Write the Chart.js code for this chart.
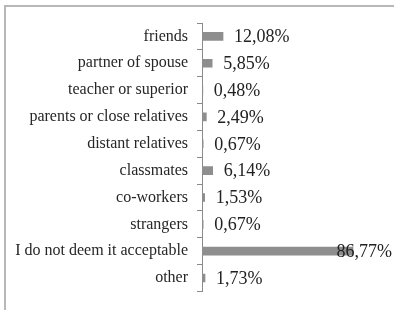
<!DOCTYPE html>
<html>
<head>
<meta charset="utf-8">
<script src="https://cdn.jsdelivr.net/npm/chart.js@4"></script>
<style>
  html, body { margin: 0; padding: 0; background: #fff; }
  #wrap { position: relative; width: 394px; height: 310px; overflow: hidden; }
  #frame { position: absolute; left: 4px; top: 5px; width: 400px; height: 320px;
           border-top: 2px solid #b8b8b8; border-left: 2px solid #b8b8b8; }
  canvas { position: absolute; left: 0; top: 0; }
</style>
</head>
<body>
<div id="wrap">
  <canvas id="chart" width="394" height="310"></canvas>
  <div id="frame"></div>
</div>
<script>
const categories = [
    "friends",
    "partner of spouse",
    "teacher or superior",
    "parents or close relatives",
    "distant relatives",
    "classmates",
    "co-workers",
    "strangers",
    "I do not deem it acceptable",
    "other"
];
const shares = [12.08, 5.85, 0.48, 2.49, 0.67, 6.14, 1.53, 0.67, 86.77, 1.73];
const valueLabels = ["12,08%", "5,85%", "0,48%", "2,49%", "0,67%", "6,14%", "1,53%", "0,67%", "86,77%", "1,73%"];

// labels at the end of each bar, pushed back inside if they don't fit
const valueLabelPlugin = {
    id: 'valueLabels',
    afterDatasetsDraw(chart) {
        const ctx = chart.ctx;
        const meta = chart.getDatasetMeta(0);
        ctx.save();
        ctx.font = '18px "Liberation Serif", "Times New Roman", serif';
        ctx.fillStyle = '#222';
        ctx.textAlign = 'left';
        ctx.textBaseline = 'middle';
        meta.data.forEach((bar, i) => {
            const w = ctx.measureText(valueLabels[i]).width;
            let x = bar.x + 11;
            if (x + w > chart.width - 2) x = chart.width - 2 - w;
            ctx.fillText(valueLabels[i], x, bar.y + 1);
        });
        ctx.restore();
    }
};

new Chart(document.getElementById("chart").getContext("2d"), {
    type: 'bar',
    data: {
        labels: categories,
        datasets: [{
            data: shares,
            backgroundColor: "#8e8e8e",
            barThickness: 8
        }]
    },
    options: {
        indexAxis: 'y',
        responsive: false,
        animation: false,
        layout: { padding: { top: 23, bottom: 16, left: 0, right: 18 } },
        scales: {
            x: { display: false, min: 0, max: 100 },
            y: {
                afterFit: function (scale) { scale.width = 202; },
                grid: { offset: true, drawOnChartArea: false, tickLength: 5, color: "#8a8a8a", lineWidth: 1 },
                border: { display: true, color: "#8a8a8a", width: 1 },
                ticks: {
                    padding: 9,
                    color: "#262626",
                    font: { family: '"Liberation Serif", "Times New Roman", serif', size: 16 }
                }
            }
        },
        plugins: {
            legend: { display: false },
            tooltip: { enabled: false }
        }
    },
    plugins: [valueLabelPlugin]
});
</script>
</body>
</html>
